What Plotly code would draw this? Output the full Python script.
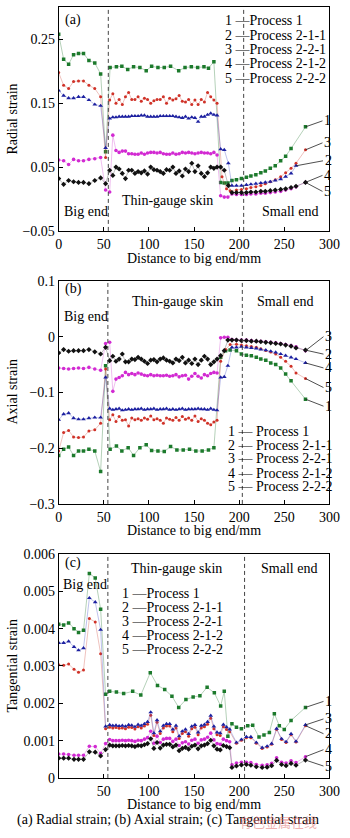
import plotly.graph_objects as go

W, H = 350, 838
FONT = "Liberation Serif"

# ---------------- shared x grids (mm) ----------------
big_x_ab = [0, 5.5, 11, 16.5, 22, 27.5, 33.5, 40, 46.5, 52]
big_x_c = [0, 5.5, 11, 17, 22, 27.5, 34, 40.5, 46.5, 52]
thin_x = [56.5, 60, 63.5, 67, 70.5, 74, 77.5, 81, 84.5, 88, 91.5, 95, 98.5, 102, 105.5,
          109, 112.5, 116, 119.5, 123, 126.5, 130, 133.5, 137, 140.5, 144, 147.5, 151,
          154.5, 158, 161.5, 165, 168.5, 172, 175.5]
thin_x_c_tail = [179, 182.5, 186, 189.5]

# ---------------- (a) Radial strain ----------------
a1_x_thin = [57, 64, 70, 76.5, 83, 90, 97, 103, 110, 117, 124, 133, 140, 147, 154, 161, 166, 172]
a1_x_small = [179.5, 183.5, 187.5, 192, 197, 202.5, 208, 213, 218.5, 224, 229, 234.5, 240, 246, 251.5, 257.5, 273.5]
a1_y = [0.258, 0.219, 0.211, 0.226, 0.228, 0.228, 0.217, 0.213, 0.196, 0.074,
        0.206, 0.207, 0.208, 0.203, 0.207, 0.206, 0.201, 0.208, 0.206, 0.206, 0.208, 0.201, 0.206, 0.207, 0.206, 0.207, 0.205, 0.215,
        0.026, 0.025, 0.025, 0.029, 0.030, 0.032, 0.034, 0.036, 0.038, 0.041, 0.044, 0.048, 0.052, 0.060, 0.067, 0.079, 0.113]

a2_x_small = [181, 186, 190, 197, 202.5, 208, 213, 218.5, 224, 229, 234.5, 240, 246, 251.5, 257.5, 263, 273.5]
a2_y = [0.198, 0.178, 0.173, 0.184, 0.185, 0.185, 0.178, 0.173, 0.160, 0.065,
        0.155, 0.165, 0.150, 0.156, 0.148, 0.160, 0.167, 0.156, 0.156, 0.160, 0.153, 0.158, 0.156, 0.150, 0.154, 0.156, 0.156, 0.160,
        0.150, 0.158, 0.155, 0.157, 0.162, 0.153, 0.152, 0.156, 0.148, 0.155, 0.148, 0.156, 0.152, 0.167, 0.160, 0.155, 0.150,
        0.035, 0.016, 0.013, 0.014, 0.015, 0.016, 0.018, 0.019, 0.021, 0.024, 0.027, 0.030, 0.035, 0.041, 0.048, 0.056, 0.077]

a3_x_small = [179.5, 183.5, 188, 192, 197, 202.5, 208, 213, 218.5, 224, 229, 234.5, 240, 246, 251.5, 257.5, 263]
a3_y = [0.170, 0.162, 0.158, 0.158, 0.160, 0.160, 0.155, 0.148, 0.146, 0.080,
        0.126, 0.128, 0.128, 0.129, 0.129, 0.129, 0.129, 0.130, 0.130, 0.130, 0.131, 0.131, 0.129, 0.129, 0.129, 0.129, 0.130, 0.130,
        0.130, 0.130, 0.130, 0.129, 0.128, 0.127, 0.129, 0.126, 0.128, 0.127, 0.121, 0.129, 0.129, 0.132, 0.134, 0.132, 0.131,
        0.078, 0.077, 0.056, 0.021, 0.021, 0.021, 0.022, 0.023, 0.024, 0.025, 0.026, 0.027, 0.029, 0.031, 0.035, 0.040, 0.052]

a4_x_small = [179.5, 183.5, 187.5, 192, 197, 202.5, 208, 213, 218.5, 224, 229, 234.5, 240, 246, 251.5, 257.5, 263, 273.5]
a4_y = [0.061, 0.060, 0.054, 0.062, 0.060, 0.060, 0.062, 0.063, 0.065, 0.014,
        0.011, 0.100, 0.076, 0.073, 0.075, 0.075, 0.071, 0.071, 0.070, 0.070, 0.072, 0.070, 0.072, 0.073, 0.073, 0.072, 0.073, 0.071,
        0.070, 0.070, 0.072, 0.070, 0.071, 0.073, 0.072, 0.073, 0.072, 0.071, 0.072, 0.073, 0.072, 0.072, 0.071, 0.073, 0.069,
        0.005, 0.003, 0.003, 0.008, 0.007, 0.007, 0.007, 0.008, 0.008, 0.009, 0.009, 0.010, 0.011, 0.012, 0.014, 0.016, 0.019, 0.026]

a5_x_small = [179.5, 183.5, 188, 192, 197, 202.5, 208, 213, 218.5, 224, 229, 234.5, 240, 246, 251.5, 257.5, 263, 273.5]
a5_y = [0.032, 0.023, 0.029, 0.027, 0.026, 0.026, 0.024, 0.029, 0.033, 0.024,
        0.045, 0.037, 0.050, 0.047, 0.040, 0.032, 0.045, 0.045, 0.040, 0.043, 0.041, 0.044, 0.039, 0.050, 0.046, 0.045, 0.043, 0.040,
        0.046, 0.045, 0.050, 0.040, 0.044, 0.036, 0.047, 0.043, 0.056, 0.043, 0.052, 0.040, 0.035, 0.041, 0.050, 0.048, 0.050,
        0.050, 0.045, 0.021, 0.010, 0.010, 0.010, 0.010, 0.011, 0.011, 0.012, 0.012, 0.013, 0.014, 0.015, 0.016, 0.018, 0.020, 0.026]

# ---------------- (b) Axial strain ----------------
b1_x_thin = [57, 64, 70, 77, 83, 90, 97, 103, 110, 117, 124, 131, 138, 145, 152, 159, 166, 172]
b1_x_small = [179.5, 185, 190, 197, 202.5, 208, 213.5, 219, 224, 229.5, 235, 240.5, 246, 251.5, 257.5, 273.5]
b1_y = [-0.213, -0.202, -0.198, -0.213, -0.205, -0.205, -0.202, -0.205, -0.242, -0.052,
        -0.202, -0.196, -0.205, -0.199, -0.213, -0.199, -0.194, -0.204, -0.205, -0.206, -0.197, -0.203, -0.203, -0.202, -0.205, -0.205, -0.203, -0.199,
        -0.037, -0.025, -0.024, -0.025, -0.031, -0.033, -0.034, -0.037, -0.040, -0.042, -0.047, -0.050, -0.056, -0.067, -0.079, -0.112]

b2_x_small = [179.5, 185, 190, 197, 202.5, 208, 213.5, 219, 224, 229.5, 235, 240.5, 246, 251.5, 257.5, 263, 273.5]
b2_y = [-0.205, -0.172, -0.168, -0.180, -0.181, -0.180, -0.169, -0.167, -0.155, -0.058,
        -0.149, -0.140, -0.152, -0.143, -0.150, -0.149, -0.160, -0.146, -0.149, -0.147, -0.150, -0.146, -0.148, -0.142, -0.149, -0.147, -0.150, -0.155,
        -0.146, -0.148, -0.150, -0.145, -0.150, -0.143, -0.148, -0.146, -0.150, -0.142, -0.152, -0.147, -0.150, -0.155, -0.158, -0.153, -0.150,
        -0.044, -0.023, -0.014, -0.0135, -0.015, -0.016, -0.0175, -0.019, -0.0215, -0.0245, -0.0275, -0.031, -0.037, -0.044, -0.053, -0.065, -0.075]

b_x_small = [179.5, 183.5, 187.5, 192, 197, 202.5, 208, 213.5, 219, 224, 229.5, 235, 240.5, 246, 251.5, 257.5, 263, 273.5]
b3_y = [-0.149, -0.139, -0.137, -0.146, -0.148, -0.148, -0.146, -0.145, -0.145, -0.073,
        -0.129, -0.131, -0.130, -0.129, -0.132, -0.131, -0.130, -0.131, -0.130, -0.130, -0.129, -0.131, -0.130, -0.130, -0.129, -0.131, -0.130, -0.130,
        -0.129, -0.131, -0.130, -0.131, -0.130, -0.129, -0.131, -0.130, -0.130, -0.130, -0.129, -0.130, -0.130, -0.131, -0.129, -0.131, -0.132,
        -0.073, -0.072, -0.052, -0.019, -0.019, -0.018, -0.019, -0.020, -0.021, -0.023, -0.024, -0.026, -0.028, -0.031, -0.034, -0.037, -0.040, -0.047]
b4_y = [-0.056, -0.057, -0.058, -0.057, -0.056, -0.057, -0.055, -0.058, -0.060, -0.012,
        -0.010, -0.098, -0.076, -0.073, -0.070, -0.064, -0.068, -0.066, -0.068, -0.065, -0.067, -0.069, -0.070, -0.068, -0.070, -0.069, -0.070, -0.070,
        -0.069, -0.071, -0.070, -0.068, -0.072, -0.070, -0.069, -0.076, -0.071, -0.066, -0.071, -0.074, -0.068, -0.070, -0.066, -0.064, -0.065,
        -0.002, -0.001, -0.001, -0.005, -0.006, -0.006, -0.006, -0.007, -0.008, -0.008, -0.009, -0.010, -0.011, -0.012, -0.014, -0.016, -0.018, -0.025]
b5_y = [-0.029, -0.023, -0.026, -0.025, -0.025, -0.025, -0.023, -0.027, -0.031, -0.019,
        -0.043, -0.035, -0.044, -0.040, -0.031, -0.045, -0.045, -0.040, -0.041, -0.037, -0.040, -0.044, -0.048, -0.042, -0.041, -0.045, -0.040, -0.038,
        -0.042, -0.044, -0.047, -0.040, -0.043, -0.037, -0.047, -0.042, -0.048, -0.040, -0.050, -0.042, -0.035, -0.040, -0.050, -0.045, -0.040,
        -0.034, -0.025, -0.006, -0.006, -0.006, -0.007, -0.007, -0.008, -0.008, -0.009, -0.010, -0.011, -0.012, -0.013, -0.015, -0.017, -0.020, -0.024]

# ---------------- (c) Tangential strain ----------------
c1_x = [0, 5.5, 11, 17, 22, 27.5, 34, 40.5, 46.5, 52,
        56.5, 64, 72, 82, 91, 101.5, 109.5, 117.5, 125.5, 133, 141, 149, 156.5, 164.5, 172.5,
        179.5, 183.5, 187.5, 192, 197, 202.5, 209.5, 215, 222, 227.5, 233.5, 239, 244.5, 250, 257.5, 273.5]
c1_y = [0.00412, 0.00410, 0.00415, 0.00400, 0.00390, 0.00396, 0.00548, 0.00536, 0.00452, 0.00224,
        0.00232, 0.00230, 0.00226, 0.00232, 0.00222, 0.00282, 0.00248, 0.00237, 0.00219, 0.00189, 0.00210, 0.00217, 0.00220, 0.00243, 0.00228,
        0.00193, 0.00232, 0.00112, 0.00145, 0.00136, 0.00132, 0.00140, 0.00141, 0.00110, 0.00115, 0.00122, 0.00172, 0.00140, 0.00130, 0.00154, 0.00189]

c23_x_small = [197, 202.5, 208, 213, 219, 225.5, 231, 236, 241.5, 247, 252, 257.5, 263, 273.5]
c2_y = [0.00303, 0.00302, 0.00305, 0.00291, 0.00283, 0.00289, 0.00427, 0.00418, 0.00333, 0.00132,
        0.00136, 0.00134, 0.00135, 0.00133, 0.00134, 0.00132, 0.00136, 0.00135, 0.00131, 0.00137, 0.00134, 0.00139, 0.00144, 0.00168, 0.00114,
        0.00149, 0.00119, 0.00134, 0.00139, 0.00139, 0.00124, 0.00134, 0.00106, 0.00119, 0.00124, 0.00112, 0.00132, 0.00136, 0.00116, 0.00134,
        0.00137, 0.00144, 0.00160, 0.00132, 0.00116, 0.00114, 0.00137, 0.00130, 0.00124,
        0.00093, 0.00101, 0.00108, 0.00108, 0.00093, 0.00079, 0.00083, 0.00090, 0.00130, 0.00103, 0.00095, 0.00116, 0.00096, 0.00140]
c3_y = [0.00362, 0.00362, 0.00366, 0.00351, 0.00342, 0.00348, 0.00482, 0.00471, 0.00397, 0.00138,
        0.00142, 0.00140, 0.00141, 0.00139, 0.00140, 0.00138, 0.00142, 0.00141, 0.00137, 0.00143, 0.00140, 0.00145, 0.00150, 0.00176, 0.00120,
        0.00155, 0.00125, 0.00140, 0.00145, 0.00145, 0.00130, 0.00140, 0.00112, 0.00125, 0.00130, 0.00118, 0.00138, 0.00142, 0.00122, 0.00140,
        0.00143, 0.00150, 0.00167, 0.00138, 0.00122, 0.00120, 0.00143, 0.00136, 0.00130,
        0.00095, 0.00103, 0.00110, 0.00110, 0.00095, 0.00081, 0.00085, 0.00092, 0.00132, 0.00105, 0.00097, 0.00118, 0.00098, 0.00142]

c45_x_small = [192, 197, 202.5, 208, 213, 219, 225.5, 231, 236, 241.5, 247, 252, 257.5, 263, 273.5]
c4_y = [0.00064, 0.00064, 0.00063, 0.00061, 0.00061, 0.00061, 0.00085, 0.00084, 0.00066, 0.00092,
        0.00103, 0.00100, 0.00100, 0.00100, 0.00101, 0.00100, 0.00101, 0.00100, 0.00098, 0.00101, 0.00100, 0.00104, 0.00108, 0.00125, 0.00093,
        0.00112, 0.00095, 0.00104, 0.00106, 0.00106, 0.00098, 0.00104, 0.00087, 0.00094, 0.00097, 0.00091, 0.00101, 0.00104, 0.00093, 0.00102,
        0.00104, 0.00109, 0.00120, 0.00102, 0.00092, 0.00090, 0.00104, 0.00100, 0.00097,
        0.00035, 0.00040, 0.00042, 0.00042, 0.00041, 0.00036, 0.00034, 0.00035, 0.00039, 0.00054, 0.00042, 0.00040, 0.00046, 0.00041, 0.00057]
c5_y = [0.00053, 0.00053, 0.00053, 0.00050, 0.00050, 0.00050, 0.00070, 0.00069, 0.00059, 0.00076,
        0.00088, 0.00086, 0.00086, 0.00086, 0.00087, 0.00086, 0.00087, 0.00086, 0.00084, 0.00087, 0.00086, 0.00089, 0.00092, 0.00105, 0.00079,
        0.00095, 0.00080, 0.00088, 0.00090, 0.00090, 0.00083, 0.00088, 0.00073, 0.00079, 0.00082, 0.00077, 0.00085, 0.00088, 0.00078, 0.00086,
        0.00088, 0.00092, 0.00101, 0.00086, 0.00077, 0.00075, 0.00087, 0.00084, 0.00081,
        0.00028, 0.00032, 0.00035, 0.00036, 0.00034, 0.00030, 0.00028, 0.00029, 0.00033, 0.00047, 0.00036, 0.00033, 0.00039, 0.00034, 0.00048]

legend_names = ["Process 1", "Process 2-1-1", "Process 2-2-1", "Process 2-1-2", "Process 2-2-2"]
x_ticks_ab = [0, 50, 100, 150, 200, 250, 300]
x_ticks_c = [50, 100, 150, 200, 250, 300]
y_ticks_a = [-0.05, 0.05, 0.15, 0.25]
y_ticks_b = [-0.3, -0.2, -0.1, 0, 0.1]
y_ticks_c = [0, 0.001, 0.002, 0.003, 0.004, 0.005, 0.006]
y_ticktext_c = ["0", "0.001", "0.002", "0.003", "0.004", "0.005", "0.006"]

# ---------------- assemble series ----------------
series = {
    "a": [
        (big_x_ab + a1_x_thin + a1_x_small, a1_y),
        (big_x_ab + thin_x + a2_x_small, a2_y),
        (big_x_ab + thin_x + a3_x_small, a3_y),
        (big_x_ab + thin_x + a4_x_small, a4_y),
        (big_x_ab + thin_x + a5_x_small, a5_y),
    ],
    "b": [
        (big_x_ab + b1_x_thin + b1_x_small, b1_y),
        (big_x_ab + thin_x + b2_x_small, b2_y),
        (big_x_ab + thin_x + b_x_small, b3_y),
        (big_x_ab + thin_x + b_x_small, b4_y),
        (big_x_ab + thin_x + b_x_small, b5_y),
    ],
    "c": [
        (c1_x, c1_y),
        (big_x_c + thin_x + thin_x_c_tail + c23_x_small, c2_y),
        (big_x_c + thin_x + thin_x_c_tail + c23_x_small, c3_y),
        (big_x_c + thin_x + thin_x_c_tail + c45_x_small, c4_y),
        (big_x_c + thin_x + thin_x_c_tail + c45_x_small, c5_y),
    ],
}
for k, lst in series.items():
    for i, (xx, yy) in enumerate(lst):
        if len(xx) != len(yy):
            raise SystemExit(f"length mismatch {k}{i+1}: {len(xx)} vs {len(yy)}")

styles = [
    dict(mc="#1c7a2c", lc="rgba(70,140,80,0.40)", sym="square", size=3.5),
    dict(mc="#d03228", lc="rgba(210,80,70,0.35)", sym="circle", size=3),
    dict(mc="#1c20a0", lc="rgba(70,80,200,0.35)", sym="triangle-up", size=4.2),
    dict(mc="#d22ad2", lc="rgba(210,70,210,0.35)", sym="circle", size=3.6),
    dict(mc="#111111", lc="rgba(70,70,70,0.35)", sym="diamond", size=4),
]

def py(px):  # pixel row -> paper y
    return 1 - px / H

def px_(p):  # pixel column -> paper x
    return p / W

x0, x1 = 58 / W, 340 / W
panels = {
    "a": dict(ax="", dom=[py(228), py(0.5)], yr=[-0.05, 0.30]),
    "b": dict(ax="2", dom=[py(506), py(279)], yr=[-0.3, 0.1]),
    "c": dict(ax="3", dom=[py(785), py(557)], yr=[0, 0.006]),
}

fig = go.Figure()
for k, lst in series.items():
    ax = panels[k]["ax"]
    for i, (xx, yy) in enumerate(lst):
        s = styles[i]
        fig.add_trace(go.Scatter(
            x=xx, y=yy, mode="lines+markers", name=legend_names[i], showlegend=False,
            line=dict(color=s["lc"], width=1),
            marker=dict(symbol=s["sym"], size=s["size"], color=s["mc"], line=dict(width=0)),
            xaxis="x" + ax, yaxis="y" + ax, hoverinfo="skip"))

axis_common = dict(showline=True, linecolor="black", linewidth=1, mirror=True,
                   ticks="inside", ticklen=4, tickcolor="black", showgrid=False,
                   zeroline=False, ticklabeloverflow="allow",
                   tickfont=dict(family=FONT, size=14, color="black"))
layout = dict(width=W, height=H, margin=dict(l=0, r=0, t=0, b=0),
              paper_bgcolor="white", plot_bgcolor="white", showlegend=False)
for k, p in panels.items():
    ax = p["ax"]
    xa = dict(axis_common, domain=[x0, x1], range=[0, 300], anchor="y" + ax,
              tickvals=x_ticks_c if k == "c" else x_ticks_ab)
    ya = dict(axis_common, domain=p["dom"], range=p["yr"], anchor="x" + ax)
    if k == "a":
        ya["tickvals"] = y_ticks_a
    elif k == "b":
        ya["tickvals"] = y_ticks_b
    else:
        ya["tickvals"] = y_ticks_c
        ya["ticktext"] = y_ticktext_c
    layout["xaxis" + ax] = xa
    layout["yaxis" + ax] = ya
fig.update_layout(**layout)

# dashed region separators
sep = {"a": [55, 205], "b": [54.5, 203.5], "c": [54.5, 206]}
shapes = []
for k, xs in sep.items():
    ax = panels[k]["ax"]
    for xv in xs:
        shapes.append(dict(type="line", xref="x" + ax, yref="y" + ax + " domain",
                           x0=xv, x1=xv, y0=0, y1=1,
                           line=dict(color="#444", width=1, dash="4px,3px")))
fig.update_layout(shapes=shapes)

ann = []
def txt(t, xp, ypx, xanchor="left", size=14, color="black", family=FONT, angle=0):
    ann.append(dict(text=t, x=px_(xp), y=py(ypx), xref="paper", yref="paper",
                    xanchor=xanchor, yanchor="middle", showarrow=False, textangle=angle,
                    font=dict(family=family, size=size, color=color)))

# panel (a)
txt("(a)", 62, 13)
txt("Big end", 61, 208)
txt("Thin-gauge skin", 122, 197)
txt("Small end", 268, 208)
for i, yy in enumerate([14, 29, 43.5, 58, 72.5]):
    txt(f"{i+1} \u2014Process {legend_names[i].split(' ')[1]}", 229, yy)
# panel (b)
txt("(b)", 62, 287)
txt("Big end", 61, 315)
txt("Thin-gauge skin", 132, 300)
txt("Small end", 263, 300)
for i, yy in enumerate([432, 446, 460, 474.5, 488.5]):
    txt(f"{i+1} \u2014 Process {legend_names[i].split(' ')[1]}", 232, yy)
# panel (c)
txt("(c)", 62, 566)
txt("Big end", 60, 588)
txt("Thin-gauge skin", 131, 572)
txt("Small end", 267, 572)
for i, yy in enumerate([597, 611, 625.5, 640, 654.5]):
    txt(f"{i+1} \u2014Process {legend_names[i].split(' ')[1]}", 122, yy)

# axis titles
for ypx in [256, 533, 812]:
    txt("Distance to big end/mm", 199, ypx, xanchor="center")
txt("Radial strain", 10, 114, xanchor="center", angle=-90)
txt("Axial strain", 10, 392, xanchor="center", angle=-90)
txt("Tangential strain", 10, 671, xanchor="center", angle=-90)
# caption + watermark
txt("(a) Radial strain; (b) Axial strain; (c) Tangential strain", 172, 828, xanchor="center", size=14)
txt("有色金属在线", 244, 829, size=13, color="rgba(225,110,110,0.55)", family="Noto Sans CJK SC")

# end-of-curve number labels with leader lines
end_labels = {
    "a": [("1", 0, 17, -6), ("3", 1, 17, -7), ("2", 2, 27, -5), ("4", 3, 17, -7), ("5", 4, 17, 9)],
    "b": [("3", 3, 18, -14), ("2", 4, 18, 4), ("4", 2, 18, 5), ("5", 1, 18, 9), ("1", 0, 18, 7)],
    "c": [("1", 0, 18, -6), ("3", 2, 18, -6), ("2", 1, 18, 8), ("4", 3, 18, -7), ("5", 4, 18, 6)],
}
for k, labs in end_labels.items():
    ax = panels[k]["ax"]
    for lab, si, dx, dy in labs:
        xx, yy = series[k][si]
        ann.append(dict(text=lab, x=xx[-1], y=yy[-1], xref="x" + ax, yref="y" + ax,
                        showarrow=True, arrowhead=0, arrowwidth=0.8, arrowcolor="#222",
                        ax=dx, ay=dy, xanchor="left", yanchor="middle", standoff=0,
                        font=dict(family=FONT, size=14, color="black")))
fig.update_layout(annotations=ann)

fig.write_html("out.html")
